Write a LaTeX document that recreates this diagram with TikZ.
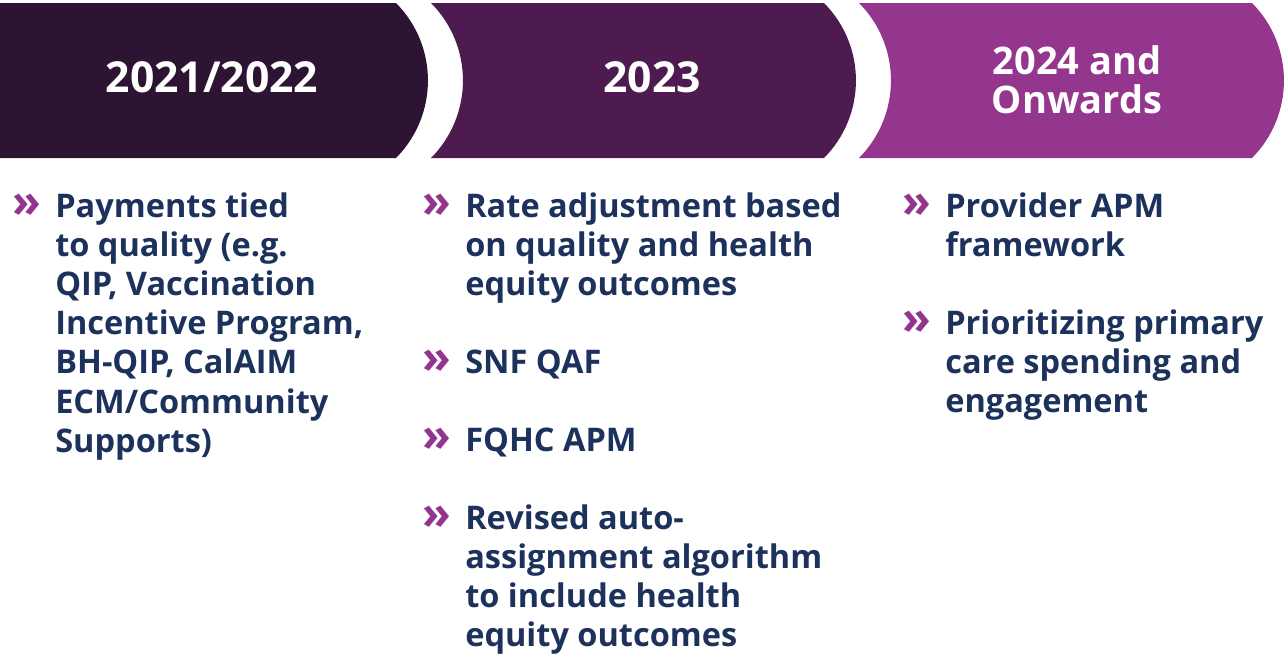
\documentclass[tikz,border=0pt]{standalone}
\usepackage{fontspec}
\setmainfont{Open Sans}
\usetikzlibrary{positioning}
\definecolor{yrone}{RGB}{46,20,51}
\definecolor{yrtwo}{RGB}{77,27,79}
\definecolor{yrthree}{RGB}{148,53,142}
\definecolor{navy}{RGB}{28,50,92}
\definecolor{bulpurple}{RGB}{147,52,143}
\newcommand{\itemlines}[1]{\begin{tabular}[t]{@{}l@{}}#1\end{tabular}}
\tikzset{
  hdr/.style={
    text=white, inner sep=0pt, align=center,
    font=\fontsize{32}{36}\selectfont\bfseries
  },
  hdrs/.style={hdr, font=\fontsize{28.5}{29}\selectfont\bfseries},
  item/.style={
    text=navy, inner sep=0pt, anchor=base west,
    font=\fontsize{24.4}{29.4}\selectfont\bfseries
  },
  bul/.style={
    text=bulpurple, inner sep=0pt,
    font=\fontsize{35}{35}\selectfont\bfseries
  }
}

\begin{document}
\begin{tikzpicture}[x=0.75pt, y=-0.75pt]
  \useasboundingbox (0,0) rectangle (1284,653);

  % year bands
  \fill[yrone] (0,3) -- (396,3)
    arc[start angle=-44.8, end angle=44.8, radius=110] -- (0,158) -- cycle;
  \fill[yrtwo] (431,3) -- (824,3)
    arc[start angle=-44.8, end angle=44.8, radius=110] -- (431,158)
    arc[start angle=44.8, end angle=-44.8, radius=110] -- cycle;
  \fill[yrthree] (859,3) -- (1252,3)
    arc[start angle=-44.8, end angle=44.8, radius=110] -- (859,158)
    arc[start angle=44.8, end angle=-44.8, radius=110] -- cycle;

  \node[hdr, anchor=base]  (y1) at (212,92)   {2021/2022};
  \node[hdr, anchor=base]  (y2) at (652,92)   {2023};
  \node[hdrs, anchor=base] (y3) at (1077,113) {2024 and\\Onwards};

  % column 1
  \node[item] (p1) at (55,217) {\itemlines{Payments tied\\to quality (e.g.\\QIP, Vaccination\\
    Incentive Program,\\BH-QIP, CalAIM\\ECM/Community\\Supports)}};

  % column 2
  \node[item] (r1) at (465,217) {\itemlines{Rate adjustment based\\on quality and health\\equity outcomes}};
  \node[item] (r2) at (465,373) {\itemlines{SNF QAF}};
  \node[item] (r3) at (465,451) {\itemlines{FQHC APM}};
  \node[item] (r4) at (465,529) {\itemlines{Revised auto-\\assignment algorithm\\
    to include health\\equity outcomes}};

  % column 3
  \node[item] (q1) at (945,217) {\itemlines{Provider APM\\framework}};
  \node[item] (q2) at (945,334) {\itemlines{Prioritizing primary\\care spending and\\engagement}};

  % bullets
  \node[bul, left=10pt of p1.base west, anchor=base east] (b1) {»};
  \node[bul, left=10pt of r1.base west, anchor=base east] (b2) {»};
  \node[bul, left=10pt of r2.base west, anchor=base east] (b3) {»};
  \node[bul, left=10pt of r3.base west, anchor=base east] (b4) {»};
  \node[bul, left=10pt of r4.base west, anchor=base east] (b5) {»};
  \node[bul, left=10pt of q1.base west, anchor=base east] (b6) {»};
  \node[bul, left=10pt of q2.base west, anchor=base east] (b7) {»};
\end{tikzpicture}
\end{document}
